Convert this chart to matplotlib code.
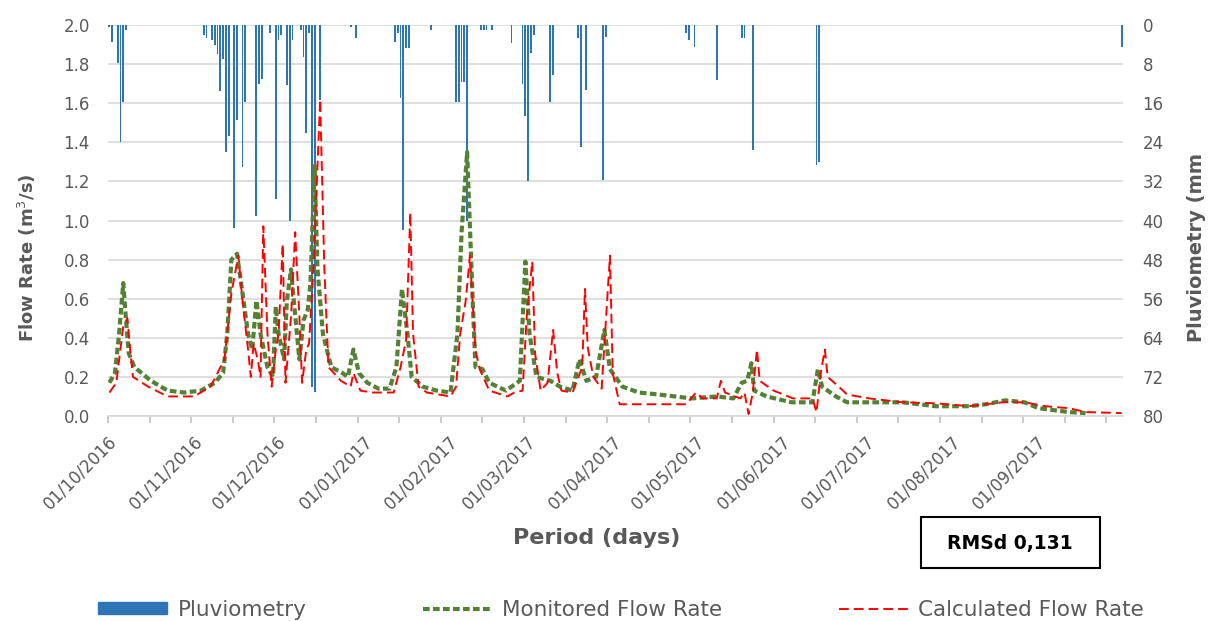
import matplotlib
matplotlib.use("Agg")
import matplotlib.pyplot as plt
from matplotlib.patches import Patch, Rectangle
from matplotlib.lines import Line2D
from matplotlib.ticker import FormatStrFormatter

plt.rcParams['font.family'] = ['DejaVu Sans']

# daily rainfall (day index from 01/10/2016, mm)
rain_days = [0, 1, 3, 4, 5, 6, 34, 35, 37, 38, 39, 40, 41, 42, 43, 45, 46, 48, 49,
             53, 54, 55, 58, 60, 61, 62, 64, 65, 66, 69, 70, 71, 72, 73, 74, 76,
             87, 89, 103, 104, 105, 106, 107, 108, 116, 125, 126, 127, 128, 129,
             134, 135, 136, 138, 145, 149, 150, 151, 152, 153, 159, 160, 169, 170,
             172, 178, 179, 208, 209, 211, 219, 228, 229, 232, 255, 256, 365]
rain_mm = [0.5, 3.4, 7.8, 24, 15.7, 1, 2, 2.7, 3, 4, 6, 13.6, 7, 26, 22.8, 41.5, 19.4, 29, 15.7,
           39, 12, 11, 1.7, 35.5, 3, 2, 12.3, 40, 3, 1, 6.5, 22, 1.7, 74, 75, 15.3,
           0.5, 2.7, 3.4, 1.7, 15, 42, 4.7, 4.7, 1, 15.7, 15.7, 11.6, 11.6, 40,
           1, 1, 1, 1, 3.7, 12, 18.6, 32, 5.7, 2, 15.7, 10.2, 2.7, 25,
           13.3, 31.7, 2.4, 1.7, 3, 4.4, 11.2, 2.7, 2.7, 25.6, 28.6, 28, 4.5]

# monitored flow rate (m3/s)
mon_days = [0, 2, 3.5, 5, 6, 7, 9, 15, 21, 27, 33, 38, 41, 42.5, 44, 46, 47.5, 50, 51.5,
            53, 54.5, 57, 59, 60, 61, 63, 64, 65.5, 66.5, 68.5, 70, 71.5, 72.5, 74, 75,
            77, 80, 84, 86, 88, 90, 93, 97, 101, 103.5, 105.5, 107.5, 109, 113, 118, 123,
            125.5, 127, 129, 131, 132, 134.5, 137, 143, 148, 150, 151.5, 154, 159, 162.5,
            167, 169.5, 172, 175.5, 178.5, 180.5, 185, 191, 198, 210, 219, 225, 228, 230,
            231.5, 232.5, 237, 246, 253.5, 255.5, 257, 262, 266, 274, 286, 298, 310, 316,
            323, 330, 335, 346, 352]
mon_flow = [0.17, 0.22, 0.42, 0.68, 0.49, 0.32, 0.25, 0.18, 0.13, 0.12, 0.13, 0.17, 0.22, 0.42,
            0.80, 0.83, 0.68, 0.42, 0.34, 0.59, 0.42, 0.25, 0.20, 0.56, 0.42, 0.29, 0.59, 0.75,
            0.59, 0.29, 0.49, 0.54, 0.68, 1.28, 0.76, 0.42, 0.25, 0.22, 0.20, 0.34, 0.22, 0.17,
            0.14, 0.14, 0.25, 0.65, 0.42, 0.20, 0.15, 0.13, 0.12, 0.42, 0.94, 1.35, 0.59, 0.25,
            0.24, 0.17, 0.13, 0.18, 0.79, 0.42, 0.20, 0.18, 0.15, 0.13, 0.29, 0.18, 0.20, 0.44,
            0.24, 0.15, 0.12, 0.11, 0.09, 0.10, 0.09, 0.17, 0.18, 0.27, 0.13, 0.10, 0.07, 0.07,
            0.24, 0.15, 0.10, 0.07, 0.07, 0.07, 0.05, 0.05, 0.06, 0.08, 0.07, 0.04, 0.02, 0.015]

# calculated flow rate (m3/s)
calc_days = [0, 2.5, 5, 6.5, 7.5, 8.5, 14, 21, 30.5, 36.5, 41.5, 44, 46.5, 48, 50, 51, 52,
             53.5, 54.5, 55.5, 57, 58.5, 60, 61, 62.5, 63.5, 65.5, 67, 68.5, 69.5, 71, 72,
             73.5, 76, 77.5, 79, 83.5, 87, 88, 90.5, 95, 102.5, 105, 107, 108.5, 109.5,
             111.5, 114.5, 123, 125, 126.5, 128.5, 130, 132, 133.5, 137, 143.5, 146, 149,
             150.5, 152.5, 153.5, 155.5, 158, 160, 161.5, 163, 167, 170.5, 171.5, 172.5,
             174.5, 177.5, 180.5, 181.5, 184, 191, 208, 211.5, 214, 219, 220.5, 222, 227.5,
             229, 230.5, 232, 233.5, 234.5, 239.5, 246.5, 253.5, 255, 256.5, 258, 259, 263,
             266, 274, 286, 298, 310, 322, 330, 337.5, 346, 352, 365]
calc_flow = [0.12, 0.17, 0.46, 0.50, 0.34, 0.20, 0.15, 0.10, 0.10, 0.15, 0.29, 0.63, 0.82,
             0.59, 0.34, 0.20, 0.37, 0.29, 0.20, 0.97, 0.42, 0.15, 0.34, 0.42, 0.88, 0.17,
             0.51, 0.94, 0.51, 0.17, 0.34, 0.37, 0.73, 1.62, 0.76, 0.25, 0.18, 0.15, 0.22,
             0.13, 0.12, 0.12, 0.25, 0.39, 1.04, 0.42, 0.15, 0.12, 0.10, 0.15, 0.42, 0.59,
             0.82, 0.34, 0.24, 0.13, 0.10, 0.12, 0.13, 0.51, 0.79, 0.32, 0.13, 0.17, 0.44,
             0.22, 0.13, 0.12, 0.25, 0.65, 0.35, 0.20, 0.14, 0.82, 0.22, 0.06, 0.06, 0.06,
             0.12, 0.09, 0.09, 0.18, 0.12, 0.09, 0.12, 0.01, 0.12, 0.34, 0.18, 0.13, 0.09,
             0.09, 0.02, 0.22, 0.34, 0.20, 0.15, 0.11, 0.09, 0.07, 0.065, 0.05, 0.07, 0.07,
             0.05, 0.04, 0.02, 0.015]

month_days = [0, 31, 61, 92, 123, 151, 182, 212, 243, 273, 304, 335]
month_labels = ['01/10/2016', '01/11/2016', '01/12/2016', '01/01/2017', '01/02/2017',
                '01/03/2017', '01/04/2017', '01/05/2017', '01/06/2017', '01/07/2017',
                '01/08/2017', '01/09/2017']

W, H = 1214, 621
grey = '#595959'
fig = plt.figure(figsize=(W / 100, H / 100), dpi=100)
ax = fig.add_axes([108 / W, (H - 416) / H, (1123 - 108) / W, 391 / H])
ax2 = ax.twinx()

# rainfall hanging from the top on the secondary axis
ax2.bar(rain_days, rain_mm, width=0.65, color='#2E75B6', zorder=2)
ax2.set_ylim(80, 0)
ax2.set_yticks(range(0, 81, 8))
ax2.yaxis.grid(True, color='#d9d9d9', lw=1.2, zorder=0)
ax2.set_axisbelow(True)
ax2.tick_params(axis='y', length=0, pad=14, labelsize=12, labelcolor=grey)

# flow lines drawn above the bars
ax.set_zorder(ax2.get_zorder() + 1)
ax.patch.set_visible(False)
ax.plot(mon_days, mon_flow, color='#548235', lw=3, dashes=(1.6, 0.8))
ax.plot(calc_days, calc_flow, color='#FF0000', lw=1.4, dashes=(5, 2.6))
ax.set_ylim(0, 2.0)
ax.set_yticks([i * 0.2 for i in range(11)])
ax.yaxis.set_major_formatter(FormatStrFormatter('%.1f'))
ax.tick_params(axis='y', length=0, pad=13, labelsize=12, labelcolor=grey)

ax.set_xlim(-0.5, 365.5)
ax.xaxis.remove_overlapping_locs = False
ax.set_xticks([-0.5 + 15 * k for k in range(25)])
ax.set_xticklabels([])
ax.set_xticks([d - 0.5 for d in month_days], minor=True)
ax.set_xticklabels(month_labels, minor=True, rotation=45, ha='right',
                   rotation_mode='anchor', fontsize=12, color=grey)
ax.tick_params(axis='x', which='major', length=5, color='#bfbfbf', width=1.2)
ax.tick_params(axis='x', which='minor', length=0, pad=12)

for s in ['left', 'right', 'top']:
    ax.spines[s].set_visible(False)
    ax2.spines[s].set_visible(False)
ax2.spines['bottom'].set_visible(False)
ax.spines['bottom'].set_color('#d9d9d9')
ax.spines['bottom'].set_linewidth(1.2)

fig.text(27 / W, 1 - 258 / H, 'Flow Rate (m$^3$/s)', rotation=90, ha='center', va='center',
         fontsize=13, fontweight='bold', color=grey)
fig.text(1197 / W, 1 - 248 / H, 'Pluviometry (mm', rotation=90, ha='center', va='center',
         fontsize=14, fontweight='bold', color=grey)
fig.text(597 / W, 1 - 538 / H, 'Period (days)', ha='center', va='center',
         fontsize=16, fontweight='bold', color=grey)

# RMSd box
fig.patches.append(Rectangle((921 / W, 1 - 568 / H), 179 / W, 51 / H, transform=fig.transFigure,
                             fill=False, edgecolor='black', lw=1.5))
fig.text(1010 / W, 1 - 543 / H, 'RMSd 0,131', ha='center', va='center',
         fontsize=13.5, fontweight='bold', color='black')

handles = [Patch(color='#2E75B6'),
           Line2D([], [], color='#548235', lw=3, dashes=(1.6, 0.8)),
           Line2D([], [], color='#FF0000', lw=1.4, dashes=(5, 2.6))]
leg = fig.legend(handles, ['Pluviometry', 'Monitored Flow Rate', 'Calculated Flow Rate'],
                 loc='center', bbox_to_anchor=(621 / W, 1 - 610 / H), ncol=3, frameon=False,
                 fontsize=15.5, handlelength=3.2, handleheight=0.5, handletextpad=0.5,
                 columnspacing=5.4)
for t in leg.get_texts():
    t.set_color(grey)

fig.savefig('out.png', dpi=100)
